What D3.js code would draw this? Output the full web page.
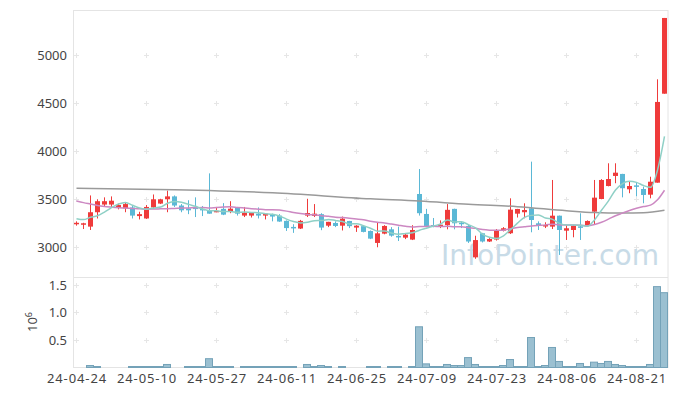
<!DOCTYPE html>
<html>
<head>
<meta charset="utf-8">
<script src="https://cdn.jsdelivr.net/npm/d3@7"></script>
<style>
  body { margin: 0; background: #fff; }
  text { font-family: "Noto Sans", sans-serif; }
</style>
</head>
<body>
<script>
// trading days shown on the chart
const dates = [
  "24-04-24","24-04-25","24-04-26","24-04-29","24-04-30","24-05-02","24-05-03","24-05-07","24-05-08","24-05-09",
  "24-05-10","24-05-13","24-05-14","24-05-16","24-05-17","24-05-20","24-05-21","24-05-22","24-05-23","24-05-24",
  "24-05-27","24-05-28","24-05-29","24-05-30","24-05-31","24-06-03","24-06-04","24-06-05","24-06-07","24-06-10",
  "24-06-11","24-06-12","24-06-13","24-06-14","24-06-17","24-06-18","24-06-19","24-06-20","24-06-21","24-06-24",
  "24-06-25","24-06-26","24-06-27","24-06-28","24-07-01","24-07-02","24-07-03","24-07-04","24-07-05","24-07-08",
  "24-07-09","24-07-10","24-07-11","24-07-12","24-07-15","24-07-16","24-07-17","24-07-18","24-07-19","24-07-22",
  "24-07-23","24-07-24","24-07-25","24-07-26","24-07-29","24-07-30","24-07-31","24-08-01","24-08-02","24-08-05",
  "24-08-06","24-08-07","24-08-08","24-08-09","24-08-12","24-08-13","24-08-14","24-08-16","24-08-19","24-08-20",
  "24-08-21","24-08-22","24-08-23","24-08-26","24-08-27"
];

const open = [
  3240,3235,3215,3365,3445,3445,3410,3405,3415,3325,
  3300,3415,3455,3500,3530,3435,3405,3415,3400,3385,
  3372,3400,3372,3415,3330,3330,3350,3330,3345,3330,
  3275,3212,3195,3330,3327,3345,3225,3253,3225,3274,
  3205,3220,3170,3045,3142,3187,3118,3100,3080,3555,
  3347,3232,3222,3230,3400,3256,3222,2895,3146,3060,
  3080,3173,3146,3350,3365,3406,3250,3219,3215,3329,
  3173,3180,3218,3222,3371,3503,3638,3743,3764,3604,
  3645,3607,3548,3673,4600
];
const high = [
  3270,3255,3540,3500,3520,3530,3455,3470,3435,3370,
  3440,3550,3505,3590,3540,3450,3490,3520,3430,3770,
  3420,3460,3480,3420,3420,3365,3415,3352,3350,3345,
  3280,3240,3285,3505,3450,3355,3265,3270,3320,3275,
  3230,3225,3175,3260,3230,3210,3215,3140,3230,3815,
  3400,3305,3280,3450,3402,3265,3235,3120,3150,3095,
  3190,3210,3510,3400,3458,3892,3270,3260,3701,3330,
  3232,3232,3354,3280,3701,3710,3875,3875,3765,3683,
  3680,3631,3735,4750,5389
];
const low = [
  3225,3190,3180,3300,3420,3420,3395,3365,3300,3290,
  3295,3400,3450,3365,3420,3365,3345,3315,3325,3350,
  3365,3335,3355,3330,3315,3310,3300,3290,3270,3265,
  3170,3150,3190,3315,3315,3178,3210,3210,3175,3200,
  3160,3155,3085,3000,3135,3110,3065,3085,3075,3330,
  3208,3208,3200,3187,3187,3200,3045,2880,3050,3055,
  3070,3165,3138,3310,3302,3156,3180,3200,3190,2920,
  3076,3104,3076,3222,3232,3500,3635,3667,3520,3563,
  3530,3458,3510,3673,4600
];
const close = [
  3255,3250,3365,3480,3480,3485,3440,3450,3330,3345,
  3420,3500,3500,3530,3435,3385,3385,3398,3390,3350,
  3380,3340,3402,3350,3360,3360,3330,3350,3320,3268,
  3200,3205,3275,3357,3350,3205,3265,3222,3298,3220,
  3225,3160,3090,3145,3222,3121,3104,3131,3180,3355,
  3222,3218,3235,3390,3250,3240,3060,3075,3060,3086,
  3180,3198,3392,3399,3388,3284,3222,3232,3329,3180,
  3198,3225,3212,3274,3517,3701,3711,3777,3615,3638,
  3640,3545,3683,4514,5389
];
const volume = [
  0,0,36000,18000,0,0,0,0,18000,18000,
  18000,18000,18000,55000,0,0,18000,18000,18000,160000,
  18000,18000,18000,0,18000,18000,18000,18000,18000,18000,
  18000,18000,0,55000,18000,36000,18000,0,18000,0,
  0,0,18000,18000,0,18000,18000,0,18000,740000,
  66000,18000,18000,55000,36000,36000,180000,55000,18000,18000,
  18000,36000,145000,18000,18000,545000,18000,36000,364000,110000,
  18000,18000,73000,18000,97000,73000,110000,55000,36000,18000,
  18000,18000,55000,1470000,1360000
];

// moving average values before enough closes exist
const ma5Lead = [3298, 3288, 3312, 3328];
const ma20Lead = [3482,3465,3450,3435,3425,3418,3412,3408,3404,3400,
                  3398,3398,3400,3402,3405,3408,3410,3412,3414];
// long moving average (gray), read at these days
const maLongDays = [0, 14, 28, 42, 49, 56, 63, 70, 74, 78, 81, 84];
const maLongVals = [3615, 3600, 3568, 3505, 3482, 3448, 3423, 3381, 3362, 3356, 3360, 3386];

const priceTicks = [3000, 3500, 4000, 4500, 5000];
const volTicks = [0.5, 1.0, 1.5];
const dateTicks = [0, 10, 20, 30, 40, 50, 60, 70, 80];

const width = 677, height = 396;
const plotLeft = 73.5, plotRight = 668, plotTop = 10.5, plotMid = 277.5, plotBottom = 367.5;

const svg = d3.select('body').append('svg')
  .attr('width', width)
  .attr('height', height);

const x = d3.scaleLinear().domain([0, 84]).range([76.5, 664.5]);
const y = d3.scaleLinear().domain([2685, 5472]).range([plotMid, 10]);
const yv = d3.scaleLinear().domain([0, 1.636]).range([plotBottom, plotMid]);

// frame
const frame = svg.append('g').attr('stroke', '#e4e4e4').attr('fill', 'none');
frame.append('rect').attr('x', plotLeft).attr('y', plotTop)
  .attr('width', plotRight - plotLeft).attr('height', plotBottom - plotTop);
frame.append('line').attr('x1', plotLeft).attr('x2', plotRight).attr('y1', plotMid).attr('y2', plotMid);

// grid crosses
const grid = svg.append('g').attr('stroke', '#e6e6e6').attr('stroke-width', 1);
function cross(cx, cy) {
  grid.append('line').attr('x1', cx - 2.5).attr('x2', cx + 2.5).attr('y1', cy).attr('y2', cy);
  grid.append('line').attr('x1', cx).attr('x2', cx).attr('y1', cy - 2.5).attr('y2', cy + 2.5);
}
dateTicks.forEach(i => {
  priceTicks.forEach(p => cross(x(i), Math.round(y(p)) + 0.5));
  volTicks.forEach(v => cross(x(i), Math.round(yv(v)) + 0.5));
});

// watermark
svg.append('text')
  .attr('x', 441)
  .attr('y', 265)
  .attr('font-size', 29)
  .attr('fill', '#c8dbe7')
  .attr('textLength', 218)
  .attr('lengthAdjust', 'spacingAndGlyphs')
  .style('font-family', '"DejaVu Sans", sans-serif')
  .text('InfoPointer.com');

// candles
const idx = d3.range(dates.length);
const up = '#ef3b3b', down = '#5bb8d6';
const candles = svg.append('g');
candles.selectAll('.wick')
  .data(idx)
  .enter().append('line')
  .attr('class', 'wick')
  .attr('x1', i => x(i)).attr('x2', i => x(i))
  .attr('y1', i => y(high[i])).attr('y2', i => y(low[i]))
  .attr('stroke', i => close[i] >= open[i] ? up : down)
  .attr('stroke-width', 1);
candles.selectAll('.body')
  .data(idx)
  .enter().append('rect')
  .attr('class', 'body')
  .attr('x', i => x(i) - 2.5)
  .attr('width', 5)
  .attr('y', i => y(Math.max(open[i], close[i])))
  .attr('height', i => Math.max(1.5, Math.abs(y(open[i]) - y(close[i]))))
  .attr('fill', i => close[i] >= open[i] ? up : down);

// moving averages
function movingAvg(n, lead) {
  return idx.map(i => i < n - 1 ? lead[i] : d3.mean(close.slice(i - n + 1, i + 1)));
}
const ma5 = movingAvg(5, ma5Lead);
const ma20 = movingAvg(20, ma20Lead);
const line = d3.line().x(d => x(d[0])).y(d => y(d[1])).curve(d3.curveMonotoneX);

svg.append('path')
  .attr('d', line(maLongDays.map((d, k) => [d, maLongVals[k]])))
  .attr('fill', 'none').attr('stroke', '#9a9a9a').attr('stroke-width', 1.5);
svg.append('path')
  .attr('d', line(idx.map(i => [i, ma20[i]])))
  .attr('fill', 'none').attr('stroke', '#cc88c2').attr('stroke-width', 1.5);
svg.append('path')
  .attr('d', line(idx.map(i => [i, ma5[i]])))
  .attr('fill', 'none').attr('stroke', '#8fd0c6').attr('stroke-width', 1.5);

// volume bars
svg.append('g').selectAll('rect')
  .data(idx.filter(i => volume[i] > 0))
  .enter().append('rect')
  .attr('x', i => x(i) - 4)
  .attr('width', 7)
  .attr('y', i => yv(volume[i] / 1e6))
  .attr('height', i => plotBottom - yv(volume[i] / 1e6))
  .attr('fill', '#9bc0d1')
  .attr('stroke', '#74a2b8')
  .attr('stroke-width', 1);

// axis labels
const labels = svg.append('g').attr('fill', '#444').attr('font-size', 13);
priceTicks.forEach(p => {
  labels.append('text').attr('x', 67).attr('y', y(p)).attr('dy', '0.35em')
    .attr('text-anchor', 'end').text(p);
});
volTicks.forEach(v => {
  labels.append('text').attr('x', 67).attr('y', yv(v)).attr('dy', '0.35em')
    .attr('text-anchor', 'end').text(v.toFixed(1));
});
dateTicks.forEach(i => {
  labels.append('text').attr('x', x(i) + 0.5).attr('y', 383)
    .attr('text-anchor', 'middle')
    .attr('letter-spacing', 0.9)
    .text(dates[i]);
});

const unit = labels.append('text')
  .attr('transform', 'translate(37,322) rotate(-90)')
  .attr('text-anchor', 'middle');
unit.append('tspan').text('10');
unit.append('tspan').attr('dy', -5).attr('font-size', 9).text('6');
</script>
</body>
</html>
